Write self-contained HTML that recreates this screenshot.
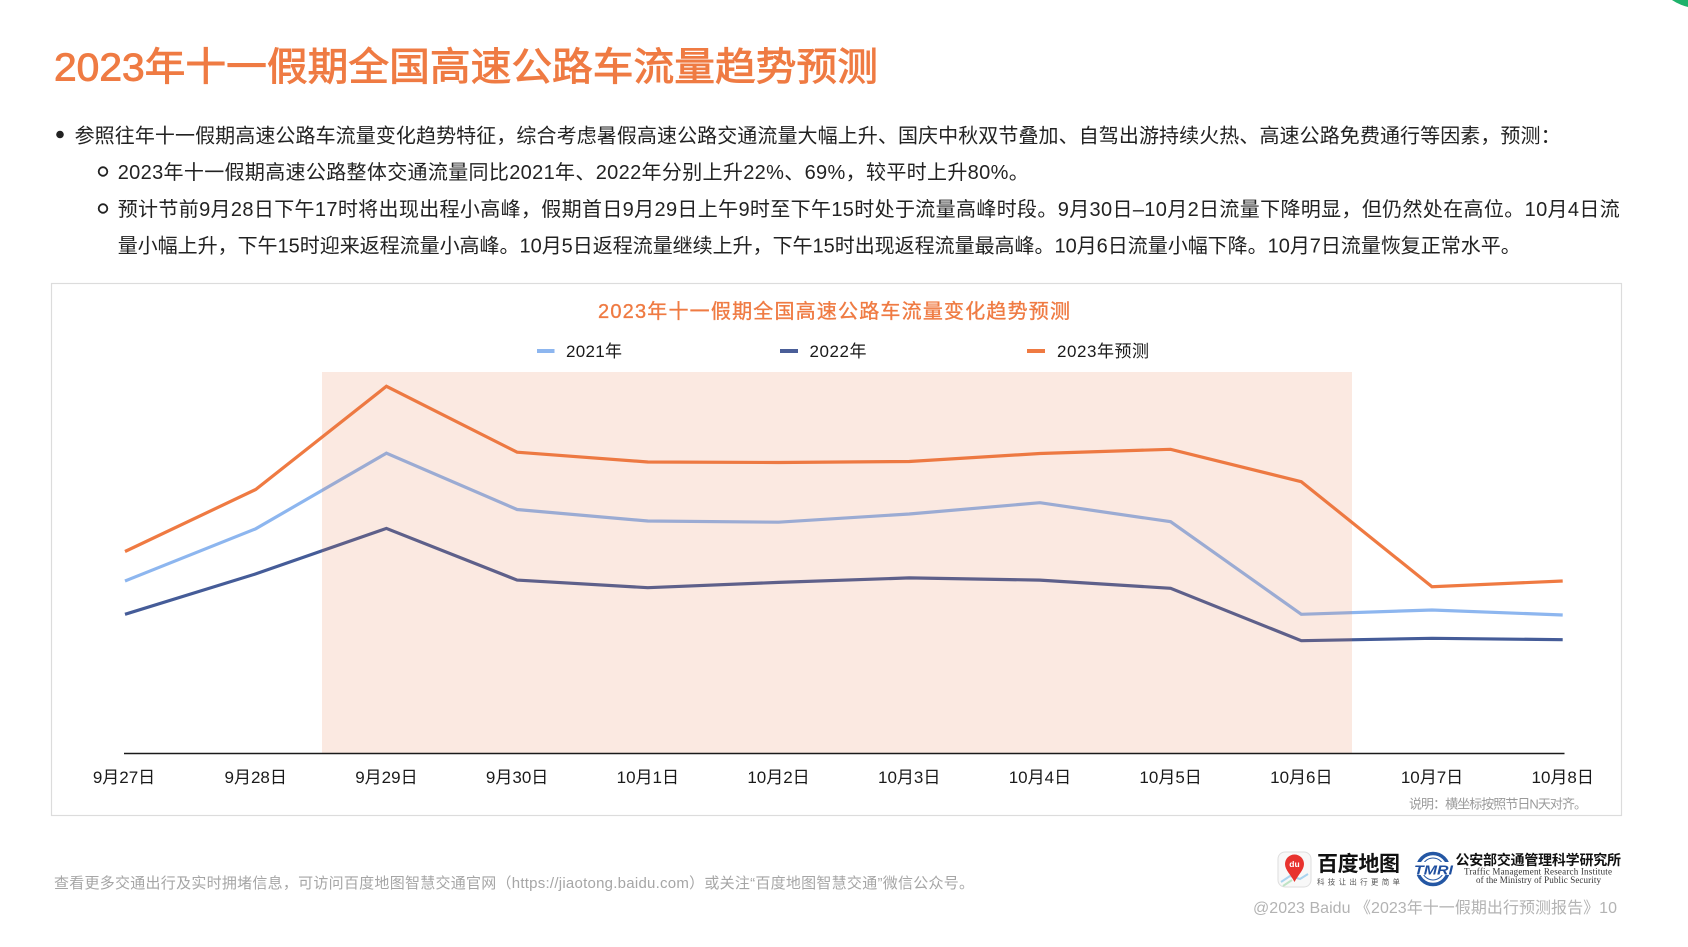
<!DOCTYPE html>
<html>
<head>
<meta charset="utf-8">
<style>
html,body{margin:0;padding:0;background:#fff;}
body{width:1688px;height:947px;overflow:hidden;position:relative;}
svg{position:absolute;left:0;top:0;}
text{font-family:"Liberation Sans","Noto Sans CJK SC",sans-serif;}
</style>
</head>
<body>
<svg width="1688" height="947" viewBox="0 0 1688 947" xmlns="http://www.w3.org/2000/svg">
  <!-- green corner circle -->
  <circle cx="1700" cy="-42" r="50.5" fill="#1EB26B"/>

  <!-- Title -->
  <text x="54" y="80.5" font-size="39" fill="#EF7B43" stroke="#EF7B43" stroke-width="0.9" textLength="824" lengthAdjust="spacingAndGlyphs">2023年十一假期全国高速公路车流量趋势预测</text>

  <!-- Bullets -->
  <circle cx="60" cy="134.5" r="3.8" fill="#222"/>
  <text x="74.6" y="142.3" font-size="20" fill="#222" textLength="1486" lengthAdjust="spacing">参照往年十一假期高速公路车流量变化趋势特征，综合考虑暑假高速公路交通流量大幅上升、国庆中秋双节叠加、自驾出游持续火热、高速公路免费通行等因素，预测：</text>

  <circle cx="103" cy="171.5" r="4.3" fill="none" stroke="#222" stroke-width="1.8"/>
  <text x="117.7" y="179" font-size="20" fill="#222" textLength="911" lengthAdjust="spacing">2023年十一假期高速公路整体交通流量同比2021年、2022年分别上升22%、69%，较平时上升80%。</text>

  <circle cx="103" cy="208.5" r="4.3" fill="none" stroke="#222" stroke-width="1.8"/>
  <text x="117.7" y="216" font-size="20" fill="#222" textLength="1502" lengthAdjust="spacing">预计节前9月28日下午17时将出现出程小高峰，假期首日9月29日上午9时至下午15时处于流量高峰时段。9月30日–10月2日流量下降明显，但仍然处在高位。10月4日流</text>
  <text x="117.7" y="252.5" font-size="20" fill="#222" textLength="1403" lengthAdjust="spacing">量小幅上升，下午15时迎来返程流量小高峰。10月5日返程流量继续上升，下午15时出现返程流量最高峰。10月6日流量小幅下降。10月7日流量恢复正常水平。</text>

  <!-- Chart box -->
  <rect x="51.5" y="283.5" width="1570" height="532" fill="#fff" stroke="#dcdcdc" stroke-width="1.2"/>

  <!-- Chart title -->
  <text x="598" y="318" font-size="20" fill="#EF7B43" stroke="#EF7B43" stroke-width="0.35" textLength="472" lengthAdjust="spacing">2023年十一假期全国高速公路车流量变化趋势预测</text>

  <!-- Legend -->
  <line x1="537" y1="351" x2="554.5" y2="351" stroke="#8DB6EF" stroke-width="4"/>
  <text x="566" y="357" font-size="17" fill="#1a1a1a" textLength="56" lengthAdjust="spacing">2021年</text>
  <line x1="780" y1="351" x2="798" y2="351" stroke="#4A5E98" stroke-width="4"/>
  <text x="809.5" y="357" font-size="17" fill="#1a1a1a" textLength="57" lengthAdjust="spacing">2022年</text>
  <line x1="1027" y1="351" x2="1045" y2="351" stroke="#EF7A42" stroke-width="4"/>
  <text x="1057" y="357" font-size="17" fill="#1a1a1a" textLength="92" lengthAdjust="spacing">2023年预测</text>

  <!-- Series -->
  <g fill="none" stroke-width="3.2" stroke-linejoin="miter" stroke-linecap="butt">
    <polyline stroke="#8DB6EF" points="125,581 255.7,528.8 386.4,453.2 517.1,509.5 647.8,521 778.5,522.2 909.2,514 1039.9,502.7 1170.6,521.7 1301.3,614.3 1432,610 1562.7,615"/>
    <polyline stroke="#455C98" points="125,614.3 255.7,573.9 386.4,528.4 517.1,580.1 647.8,587.7 778.5,582.4 909.2,577.9 1039.9,580.1 1170.6,588.3 1301.3,640.7 1432,638.3 1562.7,639.7"/>
    <polyline stroke="#EF7A42" points="125,551.5 255.7,489.5 386.4,386.3 517.1,452.2 647.8,462 778.5,462.5 909.2,461.5 1039.9,453.5 1170.6,449.3 1301.3,481.7 1432,586.7 1562.7,581"/>
  </g>

  <!-- Shaded holiday region (on top, translucent) -->
  <rect x="322" y="372" width="1030" height="381.5" fill="rgb(230,118,68)" fill-opacity="0.16"/>

  <!-- Axis -->
  <line x1="124" y1="753.5" x2="1564.5" y2="753.5" stroke="#1a1a1a" stroke-width="1.6"/>

  <!-- X labels -->
  <g font-size="17" fill="#1a1a1a" text-anchor="middle">
    <text x="124" y="783">9月27日</text>
    <text x="255.7" y="783">9月28日</text>
    <text x="386.4" y="783">9月29日</text>
    <text x="517.1" y="783">9月30日</text>
    <text x="647.8" y="783">10月1日</text>
    <text x="778.5" y="783">10月2日</text>
    <text x="909.2" y="783">10月3日</text>
    <text x="1039.9" y="783">10月4日</text>
    <text x="1170.6" y="783">10月5日</text>
    <text x="1301.3" y="783">10月6日</text>
    <text x="1432" y="783">10月7日</text>
    <text x="1562.7" y="783">10月8日</text>
  </g>

  <text x="1409" y="808.5" font-size="13" fill="#9a9a9a" textLength="178" lengthAdjust="spacing">说明：横坐标按照节日N天对齐。</text>

  <!-- Footer -->
  <text x="54" y="888" font-size="15" fill="#a6a6a6" textLength="920" lengthAdjust="spacing">查看更多交通出行及实时拥堵信息，可访问百度地图智慧交通官网（https://jiaotong.baidu.com）或关注“百度地图智慧交通”微信公众号。</text>

  <!-- Baidu map logo -->
  <rect x="1278" y="852" width="33" height="35" rx="7" fill="#f8f8f8" stroke="#dedede" stroke-width="1"/>
  <path d="M1281,882 L1290,876 L1300,879 L1308,874" fill="none" stroke="#a9d4ef" stroke-width="2"/>
  <path d="M1283,886 L1292,880" fill="none" stroke="#bfe3c6" stroke-width="2"/>
  <path d="M1294.5,882 C1291,875 1285,870 1285,864 A9.5,9.5 0 1 1 1304,864 C1304,870 1298,875 1294.5,882 Z" fill="#E8322E"/>
  <text x="1294.5" y="867" font-size="8.5" font-weight="bold" fill="#fff" text-anchor="middle">du</text>
  <text x="1317" y="871" font-size="21" font-weight="bold" fill="#111" textLength="83" lengthAdjust="spacing">百度地图</text>
  <text x="1317" y="884.5" font-size="7.5" fill="#555" textLength="83" lengthAdjust="spacing">科技让出行更简单</text>

  <!-- TMRI logo -->
  <circle cx="1433" cy="869" r="15.5" fill="none" stroke="#2457A4" stroke-width="3.5"/>
  <circle cx="1433" cy="869" r="11" fill="none" stroke="#2457A4" stroke-width="1"/>
  <rect x="1413" y="862" width="41" height="13" fill="#fff"/>
  <text x="1414" y="874.5" font-size="13" font-weight="bold" font-style="italic" fill="#1F4F9F" textLength="39" lengthAdjust="spacingAndGlyphs">TMRI</text>
  <text x="1455.5" y="865" font-size="14" font-weight="bold" fill="#111" textLength="165.5" lengthAdjust="spacing">公安部交通管理科学研究所</text>
  <text x="1464" y="874.5" font-size="9" fill="#333" style="font-family:'Liberation Serif',serif" textLength="148" lengthAdjust="spacing">Traffic Management Research Institute</text>
  <text x="1476" y="883" font-size="9" fill="#333" style="font-family:'Liberation Serif',serif" textLength="125" lengthAdjust="spacing">of the Ministry of Public Security</text>

  <!-- Copyright -->
  <text x="1253" y="913" font-size="16" fill="#b3b3b3" textLength="364" lengthAdjust="spacing">@2023 Baidu 《2023年十一假期出行预测报告》10</text>
</svg>
</body>
</html>
